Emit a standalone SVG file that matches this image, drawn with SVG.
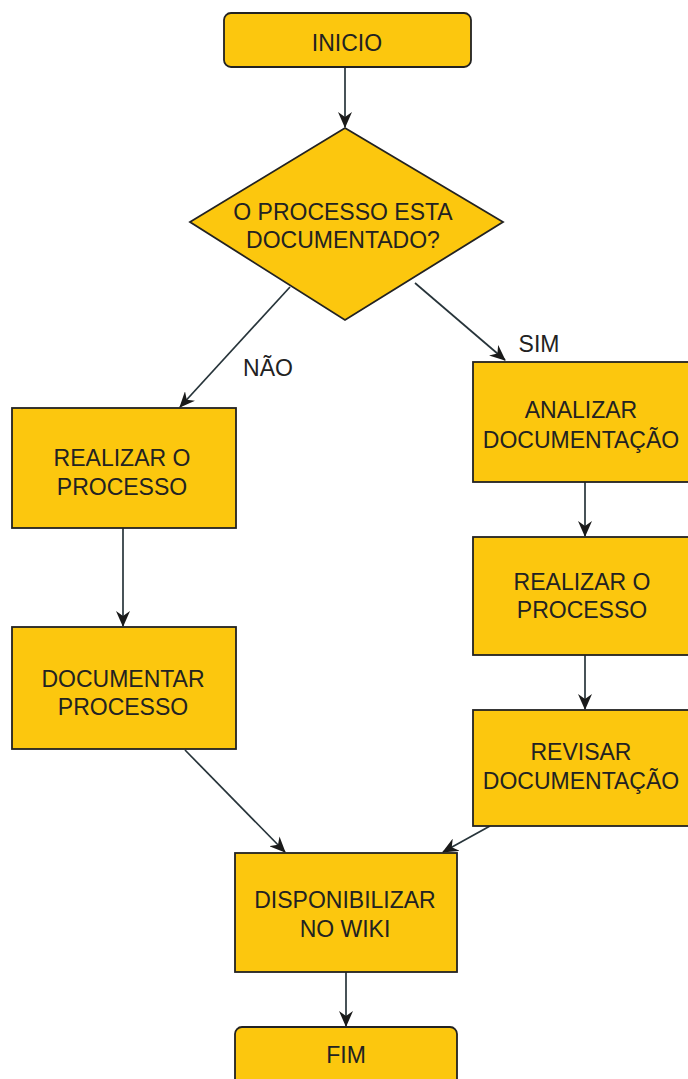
<svg xmlns="http://www.w3.org/2000/svg" width="688" height="1079" viewBox="0 0 688 1079">
<style>
.n{fill:#FCC70E;stroke:#222;stroke-width:1.8}
.t{font-family:"Liberation Sans",Arial,sans-serif;font-size:23px;fill:#222;text-anchor:middle}
.c{stroke:#27343a;stroke-width:1.7;fill:none;marker-end:url(#ah)}
</style>
<defs>
<marker id="ah" viewBox="0 0 16 14" refX="15" refY="7" markerWidth="16" markerHeight="14" markerUnits="userSpaceOnUse" orient="auto">
<path d="M0,0 L16,7 L0,14 L5,7 z" fill="#1a1a1a"/>
</marker>
</defs>
<rect width="688" height="1079" fill="#fff"/>
<g id="connectors">
<line class="c" x1="345" y1="67" x2="345" y2="127"/>
<line class="c" x1="290" y1="287" x2="180" y2="407"/>
<line class="c" x1="415" y1="283" x2="505" y2="360"/>
<line class="c" x1="123" y1="528" x2="123" y2="626"/>
<line class="c" x1="585" y1="482" x2="585" y2="536"/>
<line class="c" x1="585" y1="655" x2="585" y2="709"/>
<line class="c" x1="185" y1="750" x2="285" y2="852"/>
<line class="c" x1="490" y1="826" x2="443" y2="852"/>
<line class="c" x1="346" y1="972" x2="346" y2="1026"/>
<text class="t" x="268" y="376">NÃO</text>
<text class="t" x="539" y="352">SIM</text>
</g>
<g id="inicio">
<rect class="n" x="224" y="13" width="247" height="54" rx="7"/>
<text class="t" x="347" y="51">INICIO</text>
</g>
<g id="decisao">
<polygon class="n" points="345,128 503,222 345,320 190,222"/>
<text class="t" x="343" y="220">O PROCESSO ESTA</text>
<text class="t" x="343" y="248">DOCUMENTADO?</text>
</g>
<g id="realizar1">
<rect class="n" x="12" y="408" width="224" height="120"/>
<text class="t" x="122" y="466">REALIZAR O</text>
<text class="t" x="122" y="495">PROCESSO</text>
</g>
<g id="documentar">
<rect class="n" x="12" y="627" width="224" height="122"/>
<text class="t" x="123" y="687">DOCUMENTAR</text>
<text class="t" x="123" y="715">PROCESSO</text>
</g>
<g id="analizar">
<rect class="n" x="473" y="362" width="224" height="120"/>
<text class="t" x="581" y="418">ANALIZAR</text>
<text class="t" x="581" y="448">DOCUMENTAÇÃO</text>
</g>
<g id="realizar2">
<rect class="n" x="473" y="537" width="224" height="118"/>
<text class="t" x="582" y="590">REALIZAR O</text>
<text class="t" x="582" y="618">PROCESSO</text>
</g>
<g id="revisar">
<rect class="n" x="473" y="710" width="224" height="116"/>
<text class="t" x="581" y="760">REVISAR</text>
<text class="t" x="581" y="789">DOCUMENTAÇÃO</text>
</g>
<g id="disponibilizar">
<rect class="n" x="235" y="853" width="222" height="119"/>
<text class="t" x="345" y="908">DISPONIBILIZAR</text>
<text class="t" x="345" y="937">NO WIKI</text>
</g>
<g id="fim">
<rect class="n" x="235" y="1027" width="222" height="70" rx="7"/>
<text class="t" x="346" y="1063">FIM</text>
</g>
</svg>
